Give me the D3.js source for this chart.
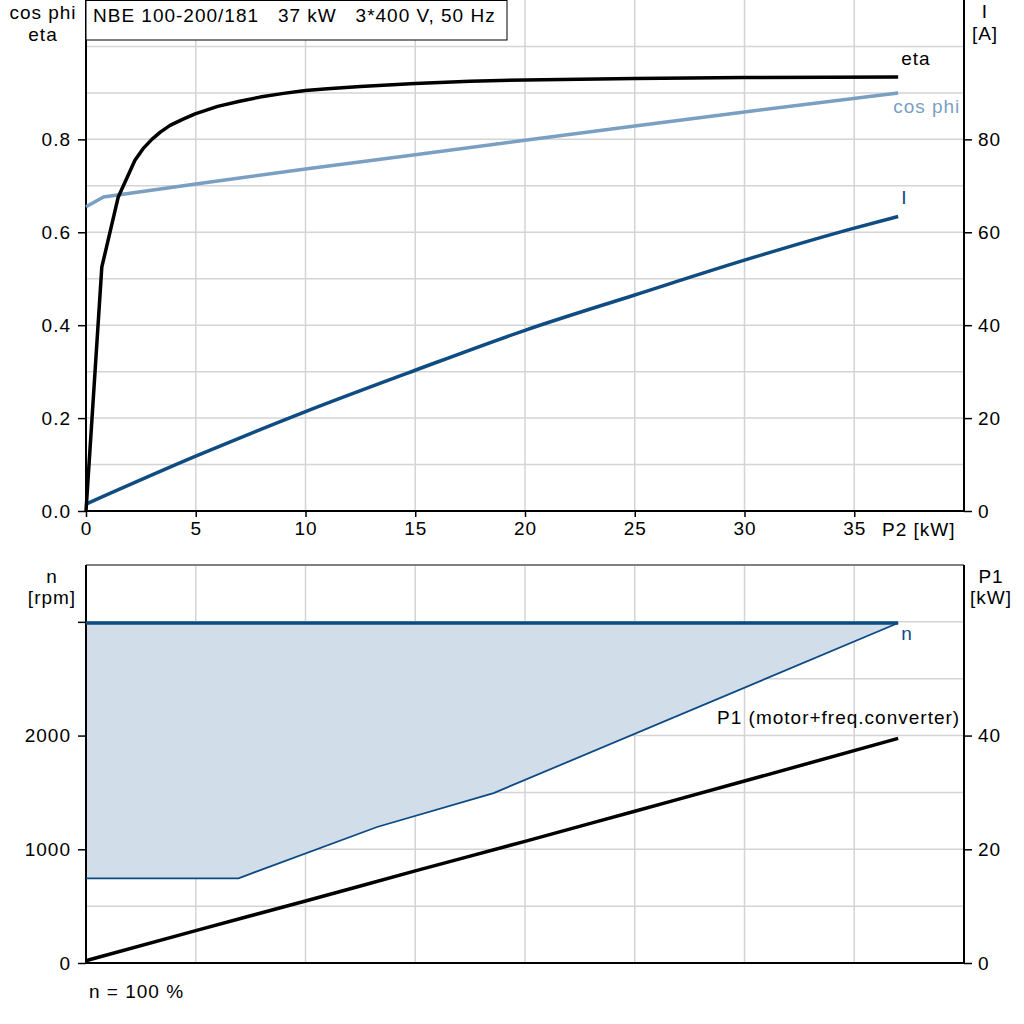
<!DOCTYPE html>
<html><head><meta charset="utf-8">
<script src="https://cdn.jsdelivr.net/npm/d3@7"></script>
<style>
html,body{margin:0;padding:0;background:#fff;}
text{font-family:"Liberation Sans",Arial,sans-serif;letter-spacing:1px;white-space:pre;}
</style></head>
<body><svg id="c" width="1024" height="1024"></svg>
<script>
// ---------- data ----------
const titleText = "NBE 100-200/181   37 kW   3*400 V, 50 Hz";
const p2Ticks = [0,5,10,15,20,25,30,35];
const etaTicks = [0.0,0.2,0.4,0.6,0.8];
const iTicks = [0,20,40,60,80];
const nTicks = [0,1000,2000,3000];
const nTickLabels = ["0","1000","2000",""];
const p1Ticks = [0,20,40];

const etaP2 = [0,0.72,1.47,2.23,2.6,3.0,3.4,3.83,4.4,4.97,6,7,7.93,9,10,11,12.5,15,17.5,20,25,30,37];
const etaVal = [0,0.525,0.676,0.755,0.78,0.80,0.816,0.83,0.843,0.855,0.871,0.882,0.891,0.899,0.905,0.909,0.914,0.920,0.925,0.928,0.931,0.933,0.934];

const cosP2 = [0,0.8,5,10,15,20,25,30,37];
const cosVal = [0.655,0.676,0.704,0.736,0.767,0.798,0.829,0.859,0.9];

const iP2 = [0,5,10,15,20,25,30,35,37];
const iVal = [1.5,11.8,21.4,30.3,38.9,46.5,54,60.9,63.4];

const nMaxP2 = [0,37];
const nMaxVal = [2990,2990];
const nMinP2 = [0,6.95,13.26,18.57,37];
const nMinVal = [745,745,1196,1494,2990];

const p1P2 = [0,5,10,15,20,25,30,37];
const p1Val = [0.4,5.7,10.9,16.2,21.4,26.7,32.0,39.5];

// ---------- layout ----------
const svg = d3.select("#c");
const X0=86, X1=964;
const T_TOP=0, T_BOT=511;
const B_TOP=565, B_BOT=963;
const fs = 19;
const gridCol = "#d4d4d4";
const cEta="#000000", cCos="#7a9fc3", cI="#0f4c82", cN="#0c4a84", cFill="#d1dde8";

const x = d3.scaleLinear().domain([0,40]).range([X0,X1]);
const yEta = d3.scaleLinear().domain([0,1.1]).range([T_BOT,T_TOP]);
const yI = d3.scaleLinear().domain([0,110]).range([T_BOT,T_TOP]);
const yN = d3.scaleLinear().domain([0,3500]).range([B_BOT,B_TOP]);
const yP1 = d3.scaleLinear().domain([0,70]).range([B_BOT,B_TOP]);

svg.append("rect").attr("width",1024).attr("height",1024).attr("fill","#fff");

// ---------- top grid ----------
const gT = svg.append("g");
gT.selectAll("line.v").data(d3.range(5,40,5)).join("line")
  .attr("x1",d=>x(d)).attr("x2",d=>x(d)).attr("y1",T_TOP).attr("y2",T_BOT)
  .attr("stroke",gridCol).attr("stroke-width",1.5);
gT.selectAll("line.h").data(d3.range(1,11).map(d=>d/10)).join("line")
  .attr("x1",X0).attr("x2",X1).attr("y1",d=>yEta(d)).attr("y2",d=>yEta(d))
  .attr("stroke",gridCol).attr("stroke-width",1.5);

// ---------- bottom grid ----------
const gB = svg.append("g");
gB.selectAll("line.v").data(d3.range(5,40,5)).join("line")
  .attr("x1",d=>x(d)).attr("x2",d=>x(d)).attr("y1",B_TOP).attr("y2",B_BOT)
  .attr("stroke",gridCol).attr("stroke-width",1.5);
gB.selectAll("line.h").data(d3.range(500,3500,500)).join("line")
  .attr("x1",X0).attr("x2",X1).attr("y1",d=>yN(d)).attr("y2",d=>yN(d))
  .attr("stroke",gridCol).attr("stroke-width",1.5);

// ---------- bottom area ----------
const zip = (a,b)=>a.map((v,i)=>[v,b[i]]);
const nMinPts = zip(nMinP2,nMinVal);
const areaPts = zip(nMaxP2,nMaxVal).concat(nMinPts.slice().reverse());
svg.append("path").attr("d", d3.line().x(d=>x(d[0])).y(d=>yN(d[1]))(areaPts)+"Z")
  .attr("fill",cFill).attr("stroke","none");

// ---------- axes ----------
function styleAxis(g){
  g.selectAll(".domain").remove();
  g.selectAll(".tick line").attr("stroke","#000").attr("stroke-width",1.5);
  g.selectAll(".tick text").attr("font-size",fs).attr("fill","#000")
    .attr("font-family","'Liberation Sans',Arial,sans-serif");
}
svg.append("g").attr("transform",`translate(${X0},0)`)
  .call(d3.axisLeft(yEta).tickValues(etaTicks).tickFormat(d3.format(".1f")).tickSize(8).tickPadding(7))
  .call(styleAxis);
svg.append("g").attr("transform",`translate(${X1},0)`)
  .call(d3.axisRight(yI).tickValues(iTicks).tickSize(8).tickPadding(6))
  .call(styleAxis);
svg.append("g").attr("transform",`translate(0,${T_BOT})`)
  .call(d3.axisBottom(x).tickValues(p2Ticks).tickSize(6).tickPadding(5))
  .call(styleAxis);
svg.append("g").attr("transform",`translate(${X0},0)`)
  .call(d3.axisLeft(yN).tickValues(nTicks).tickFormat((d,i)=>nTickLabels[i]).tickSize(8).tickPadding(7))
  .call(styleAxis);
svg.append("g").attr("transform",`translate(${X1},0)`)
  .call(d3.axisRight(yP1).tickValues(p1Ticks).tickSize(8).tickPadding(6))
  .call(styleAxis);

const axl = (x1,y1,x2,y2,c,w)=>svg.append("line").attr("x1",x1).attr("y1",y1).attr("x2",x2).attr("y2",y2).attr("stroke",c).attr("stroke-width",w);
axl(X0,T_TOP,X0,T_BOT,"#000",2);
axl(X1,T_TOP,X1,T_BOT,"#000",2);
axl(X0,T_BOT,X1,T_BOT,"#000",2);
axl(X0,B_TOP,X1,B_TOP,"#808080",2);
axl(X0,B_TOP,X0,B_BOT,"#000",2);
axl(X1,B_TOP,X1,B_BOT,"#000",2);
axl(X0,B_BOT,X1,B_BOT,"#000",2);

// ---------- curves ----------
const mkLine = (xs,ys,sc,curve)=>d3.line().curve(curve||d3.curveLinear).x(d=>x(d[0])).y(d=>sc(d[1]))(zip(xs,ys));
svg.append("path").attr("d",mkLine(cosP2,cosVal,yEta)).attr("fill","none").attr("stroke",cCos).attr("stroke-width",3.5);
svg.append("path").attr("d",mkLine(iP2,iVal,yI,d3.curveMonotoneX)).attr("fill","none").attr("stroke",cI).attr("stroke-width",3.5);
svg.append("path").attr("d",mkLine(etaP2,etaVal,yEta)).attr("fill","none").attr("stroke",cEta).attr("stroke-width",3.5).attr("stroke-linejoin","round");

svg.append("path").attr("d",mkLine(nMinP2,nMinVal,yN)).attr("fill","none").attr("stroke",cN).attr("stroke-width",1.8);
svg.append("path").attr("d",mkLine(p1P2,p1Val,yP1,d3.curveMonotoneX)).attr("fill","none").attr("stroke","#000").attr("stroke-width",3.5);
svg.append("path").attr("d",mkLine(nMaxP2,nMaxVal,yN)).attr("fill","none").attr("stroke",cN).attr("stroke-width",3.5);

// ---------- texts ----------
const txt=(s,tx,ty,anchor,col)=>svg.append("text").attr("x",tx).attr("y",ty).attr("text-anchor",anchor||"start")
  .attr("fill",col||"#000").attr("font-size",fs).text(s);

svg.append("rect").attr("x",X0).attr("y",0.5).attr("width",421).attr("height",39.5)
  .attr("fill","#fff").attr("stroke","#000").attr("stroke-width",1);
txt(titleText,93,22);

txt("cos phi",43,19,"middle");
txt("eta",43,41,"middle");
txt("I",985,18,"middle");
txt("[A]",985,40,"middle");
txt("P2 [kW]",882,536,"start");

txt("n",52,583,"middle");
txt("[rpm]",52,604,"middle");
txt("P1",991,583,"middle");
txt("[kW]",991,604,"middle");

const xe = x(37);
txt("eta",xe+3,yEta(etaVal[etaVal.length-1])-12);
txt("cos phi",xe-5,yEta(cosVal[cosVal.length-1])+20,"start",cCos);
txt("I",xe+3,yI(iVal[iVal.length-1])-12,"start",cI);
txt("n",xe+3,yN(nMaxVal[1])+17,"start",cN);
txt("P1 (motor+freq.converter)",xe+62,yP1(p1Val[p1Val.length-1])-14,"end");
txt("n = 100 %",89,998);
</script></body></html>
